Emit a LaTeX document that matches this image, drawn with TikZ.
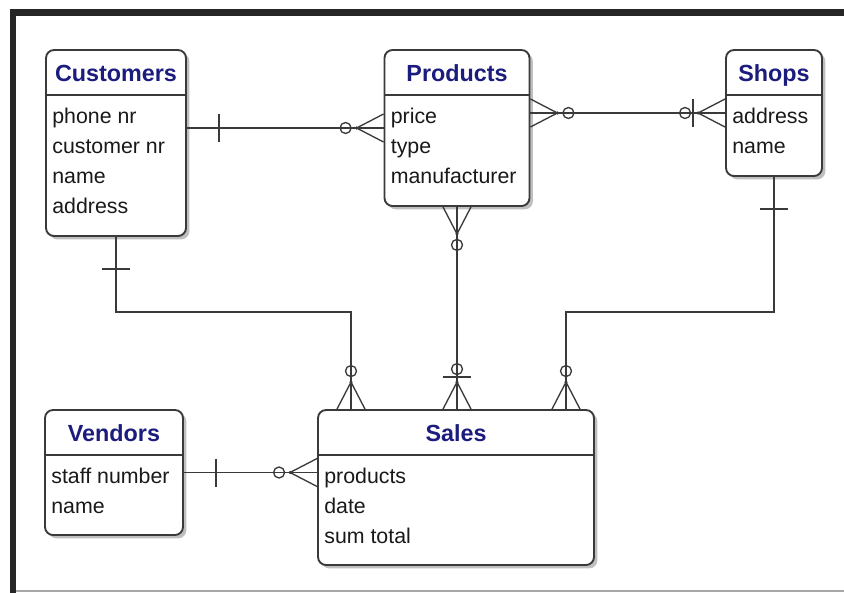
\documentclass[tikz,border=0pt]{standalone}
\usepackage{fontspec}
\setmainfont{Liberation Sans}
\usetikzlibrary{shadows}
\definecolor{titleblue}{HTML}{1C1C7E}
\definecolor{linegray}{HTML}{3A3A3A}
\definecolor{framedark}{HTML}{262626}

\tikzset{
  entity/.style 2 args={draw=linegray, line width=1.4pt, fill=white,
    rectangle, rounded corners=6pt,
    minimum width=#1, minimum height=#2, inner sep=0pt,
    drop shadow={shadow xshift=2.5pt, shadow yshift=-2.5pt, fill=black!25, opacity=1}},
  title/.style={font=\fontsize{17.5}{20}\selectfont\bfseries, text=titleblue,
    anchor=base, inner sep=0pt},
  attr/.style={font=\fontsize{16}{19}\selectfont, text=black!90,
    anchor=base west, inner sep=0pt},
  link/.style={draw=linegray, line width=1.3pt},
  one/.pic={\draw[link] (32,-14) -- (32,14);},
  zeromany/.pic={
    \draw[link, line width=1pt] (0,-14) -- (27,0) -- (0,14);
    \fill[linegray] (27,0) circle (1.8);
    \draw[link, line width=1pt] (38,0) circle (5.5);},
  onezeromany/.pic={
    \draw[link, line width=1pt] (0,-14) -- (27,0) -- (0,14);
    \fill[linegray] (27,0) circle (1.8);
    \draw[link] (32,-14) -- (32,14);
    \draw[link, line width=1pt] (40,0) circle (5.5);},
}

\begin{document}
\begin{tikzpicture}[x=0.75pt, y=-0.75pt]
  \useasboundingbox (0,0) rectangle (844,593);
  % window frame
  \fill[framedark] (10,9) rectangle (16,593);
  \fill[framedark] (10,9) rectangle (844,16);
  \draw[black!35, line width=1.5pt] (16,591) -- (844,591);

  % entities
  \foreach \ent/\ttl/\cx/\cy/\w/\h/\attrs in {
      customers/Customers/116/143/105/139.5/{phone nr, customer nr, name, address},
      products/Products/457/128/108.75/117/{price, type, manufacturer},
      shops/Shops/774/113/72/94.5/{address, name},
      vendors/Vendors/114/472.5/103.5/93.75/{staff number, name},
      sales/Sales/456/487.5/207/116.25/{products, date, sum total}} {
    \node[entity={\w pt}{\h pt}] (\ent) at (\cx,\cy) {};
    \node[title] at ([yshift=-24pt]\ent.north) {\ttl};
    \draw[link, line width=1.4pt] ([yshift=-34.5pt]\ent.north -| \ent.west)
      -- ([yshift=-34.5pt]\ent.north -| \ent.east);
    \foreach \a [count=\i] in \attrs
      \node[attr] (\ent-\i) at ([xshift=5.25pt, yshift={-55.5pt-(\i-1)*22.5pt}]\ent.north -| \ent.west) {\a};
  }

  % customers -- products
  \draw[link] (products.west -| customers.east) -- (products.west);
  \pic at (products.west -| customers.east) {one};
  \pic[rotate=180] at (products.west) {zeromany};

  % products -- shops
  \draw[link] (shops.west -| products.east) -- (shops.west);
  \pic at (shops.west -| products.east) {zeromany};
  \pic[rotate=180] at (shops.west) {onezeromany};

  % products -- sales
  \draw[link] (products.south) -- (products.south |- sales.north);
  \pic[rotate=-90] at (products.south) {zeromany};
  \pic[rotate=90] at (products.south |- sales.north) {onezeromany};

  % customers -- sales, shops -- sales
  \path (sales.north) ++(-105,0) coordinate (sales-cust) ++(215,0) coordinate (sales-shop);
  \draw[link] (customers.south) -- ++(0,75) -| (sales-cust);
  \pic[rotate=-90] at (customers.south) {one};
  \pic[rotate=90] at (sales-cust) {zeromany};
  \draw[link] (shops.south) -- ++(0,135) -| (sales-shop);
  \pic[rotate=-90] at (shops.south) {one};
  \pic[rotate=90] at (sales-shop) {zeromany};

  % vendors -- sales
  \draw[link] (vendors.east) -- (vendors.east -| sales.west);
  \pic at (vendors.east) {one};
  \pic[rotate=180] at (vendors.east -| sales.west) {zeromany};
\end{tikzpicture}
\end{document}
